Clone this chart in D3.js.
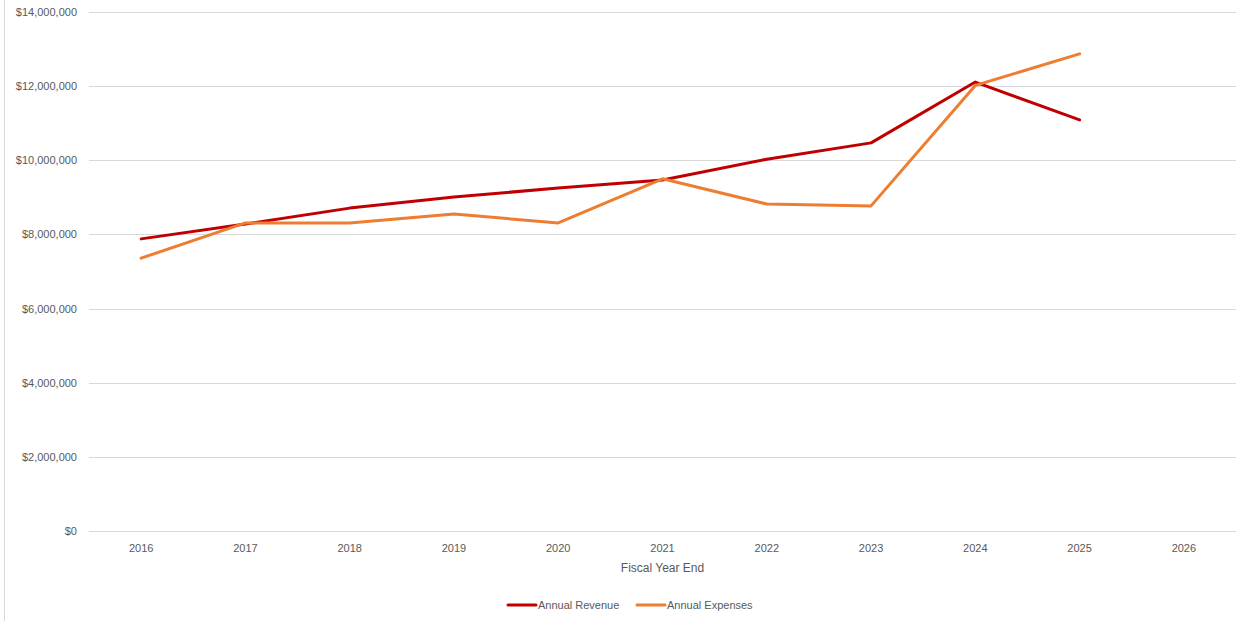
<!DOCTYPE html>
<html>
<head>
<meta charset="utf-8">
<script src="https://cdn.jsdelivr.net/npm/d3@7"></script>
<style>
  body { margin: 0; background: #fff; }
  svg { display: block; font-family: "Liberation Sans", Arial, sans-serif; }
</style>
</head>
<body>
<div id="chart"></div>
<script>
// data
const years = ["2016", "2017", "2018", "2019", "2020", "2021", "2022", "2023", "2024", "2025", "2026"];
const revenue = [7880000, 8280000, 8710000, 9010000, 9250000, 9470000, 10030000, 10470000, 12110000, 11090000];
const expenses = [7360000, 8310000, 8310000, 8550000, 8310000, 9500000, 8820000, 8770000, 12020000, 12870000];
const yTicks = [0, 2000000, 4000000, 6000000, 8000000, 10000000, 12000000, 14000000];

const series = [
  {name: "Annual Revenue", values: revenue, color: "#C00000"},
  {name: "Annual Expenses", values: expenses, color: "#ED7D31"}
];

const width = 1241, height = 621;
const margin = {left: 89, right: 5, top: 12, bottom: 90};

const svg = d3.select("#chart")
  .append("svg")
  .attr("width", width)
  .attr("height", height);

// chart border on the left edge
svg.append("line")
  .attr("x1", 4.5).attr("x2", 4.5)
  .attr("y1", 0).attr("y2", height)
  .attr("stroke", "#d9d9d9");

const x = d3.scaleBand()
  .domain(years)
  .range([margin.left, width - margin.right]);

const y = d3.scaleLinear()
  .domain([0, 14000000])
  .range([height - margin.bottom, margin.top]);

// gridlines
svg.append("g")
  .selectAll("line")
  .data(yTicks)
  .join("line")
  .attr("x1", margin.left)
  .attr("x2", width - margin.right)
  .attr("y1", d => Math.round(y(d)) + 0.5)
  .attr("y2", d => Math.round(y(d)) + 0.5)
  .attr("stroke", "#d9d9d9")
  .attr("stroke-width", 1);

// y axis labels
const fmt = d3.format("$,.0f");
const yAxis = svg.append("g")
  .attr("transform", `translate(${margin.left},0)`)
  .call(d3.axisLeft(y).tickValues(yTicks).tickFormat(fmt).tickSize(0).tickPadding(12));
yAxis.select(".domain").remove();
yAxis.selectAll("text")
  .attr("fill", "#595959")
  .style("font-size", "11px")
  .style("font-family", "Liberation Sans, Arial, sans-serif");

// x axis labels
const xAxis = svg.append("g")
  .attr("transform", `translate(0,${height - margin.bottom})`)
  .call(d3.axisBottom(x).tickSize(0).tickPadding(13));
xAxis.select(".domain").remove();
xAxis.selectAll("text")
  .attr("fill", "#595959")
  .style("font-size", "11px")
  .style("font-family", "Liberation Sans, Arial, sans-serif");

// axis title
svg.append("text")
  .attr("x", margin.left + (width - margin.right - margin.left) / 2)
  .attr("y", 572)
  .attr("text-anchor", "middle")
  .attr("fill", "#595959")
  .style("font-size", "12px")
  .text("Fiscal Year End");

// lines
const line = d3.line()
  .x((d, i) => x(years[i]) + x.bandwidth() / 2)
  .y(d => y(d));

svg.append("g")
  .selectAll("path")
  .data(series)
  .join("path")
  .attr("d", d => line(d.values))
  .attr("fill", "none")
  .attr("stroke", d => d.color)
  .attr("stroke-width", 3)
  .attr("stroke-linejoin", "round")
  .attr("stroke-linecap", "round");

// legend
const legendX = [508, 637];
const legend = svg.append("g")
  .selectAll("g")
  .data(series)
  .join("g")
  .attr("transform", (d, i) => `translate(${legendX[i]},605)`);

legend.append("line")
  .attr("x1", 0).attr("x2", 28)
  .attr("stroke", d => d.color)
  .attr("stroke-width", 3)
  .attr("stroke-linecap", "round");

legend.append("text")
  .attr("x", 30)
  .attr("dy", "0.35em")
  .attr("fill", "#595959")
  .style("font-size", "11px")
  .text(d => d.name);
</script>
</body>
</html>
